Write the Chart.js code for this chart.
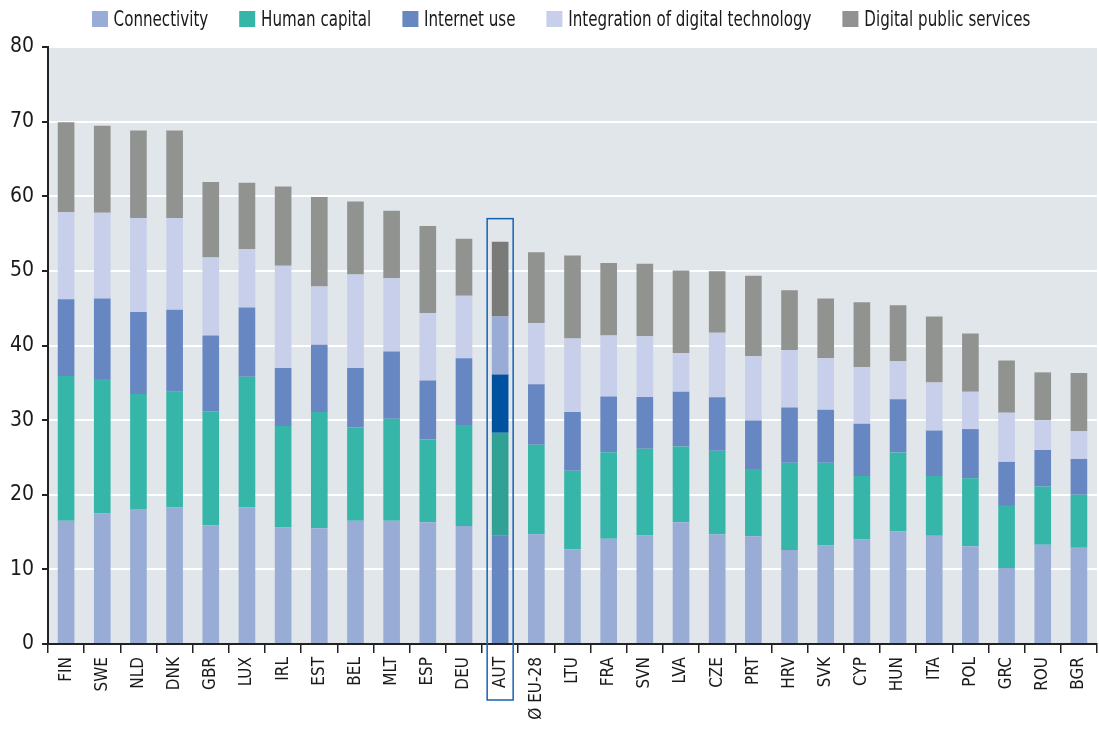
<!DOCTYPE html>
<html><head><meta charset="utf-8">
<script src="https://cdn.jsdelivr.net/npm/chart.js@4/dist/chart.umd.min.js"></script>
<style>
html,body{margin:0;padding:0;background:#fff;}
#wrap{position:relative;width:1099px;height:729px;}
#legend{position:absolute;left:92px;top:7px;height:24px;display:flex;align-items:center;font-family:'DejaVu Sans Condensed','DejaVu Sans',sans-serif;font-size:21px;color:#1a1a1a;white-space:nowrap;transform:scaleX(0.8);transform-origin:0 50%;}
.item{display:flex;align-items:center;margin-right:39px;}
.sw{width:20px;height:16px;margin-right:7px;display:inline-block;}
</style></head><body>
<div id="wrap"><canvas id="c" width="1099" height="729"></canvas><div id="legend"></div></div>
<script>
const categories = ['FIN','SWE','NLD','DNK','GBR','LUX','IRL','EST','BEL','MLT','ESP','DEU','AUT','Ø EU-28','LTU','FRA','SVN','LVA','CZE','PRT','HRV','SVK','CYP','HUN','ITA','POL','GRC','ROU','BGR'];
const seriesNames = ['Connectivity','Human capital','Internet use','Integration of digital technology','Digital public services'];
const connectivity = [16.5,17.5,18.1,18.3,15.9,18.3,15.6,15.5,16.5,16.5,16.3,15.8,14.5,14.7,12.7,14.1,14.55,16.3,14.7,14.45,12.6,13.2,14.0,15.1,14.5,13.1,10.2,13.3,12.9];
const humanCapital = [19.4,18.0,15.4,15.5,15.3,17.5,13.6,15.6,12.5,13.7,11.1,13.55,13.8,12.0,10.5,11.6,11.6,10.15,11.2,9.0,11.7,11.1,8.5,10.55,8.0,9.1,8.3,7.8,7.1];
const internetUse = [10.3,10.8,11.0,11.0,10.15,9.3,7.8,9.0,8.0,9.0,7.9,8.95,7.8,8.1,7.9,7.45,6.95,7.35,7.15,6.5,7.4,7.1,7.0,7.15,6.1,6.6,5.9,4.9,4.8];
const integration = [11.7,11.5,12.6,12.3,10.45,7.8,13.7,7.8,12.5,9.8,9.05,8.35,7.8,8.2,9.85,8.2,8.15,5.15,8.65,8.6,7.7,6.9,7.6,5.1,6.45,5.0,6.6,4.0,3.7];
const publicServices = [12.0,11.65,11.7,11.7,10.1,8.9,10.6,12.0,9.8,9.05,11.65,7.65,10.0,9.5,11.1,9.7,9.7,11.1,8.25,10.8,8.0,8.0,8.7,7.5,8.85,7.8,7.0,6.4,7.8];
const yTicks = [0,10,20,30,40,50,60,70,80];
const highlightCategory = 'AUT';
const highlightBoxTop = 57;

const normalColors = ['#98acd6','#36b5a9','#6787c2','#c7cfea','#919391'];
const highlightColors = ['#6787c2','#31a095','#0052a0','#98acd6','#7a7a79'];
const FONT = "'DejaVu Sans Condensed','DejaVu Sans',sans-serif";

const allSeries = [connectivity, humanCapital, internetUse, integration, publicServices];
const datasets = allSeries.map((data, s) => ({
  label: seriesNames[s],
  data: data,
  backgroundColor: (ctx) => (ctx.dataIndex !== undefined && categories[ctx.dataIndex] === highlightCategory) ? highlightColors[s] : normalColors[s],
  borderWidth: 0,
  categoryPercentage: 1,
  barPercentage: 0.46
}));

// HTML legend
const lg = document.getElementById('legend');
seriesNames.forEach((n, s) => {
  const it = document.createElement('div'); it.className = 'item';
  const sw = document.createElement('span'); sw.className = 'sw'; sw.style.background = normalColors[s];
  const tx = document.createElement('span'); tx.textContent = n;
  it.appendChild(sw); it.appendChild(tx); lg.appendChild(it);
});

const bgPlugin = {
  id: 'bg',
  beforeDraw(chart) {
    const {ctx, chartArea: a} = chart;
    ctx.save(); ctx.fillStyle = '#e1e6ea';
    ctx.fillRect(a.left, a.top, a.right - a.left, a.bottom - a.top);
    ctx.restore();
  }
};
const boxPlugin = {
  id: 'hbox',
  afterDraw(chart) {
    const i = categories.indexOf(highlightCategory);
    const xs = chart.scales.x, ys = chart.scales.y;
    const x = xs.getPixelForValue(i);
    const top = ys.getPixelForValue(highlightBoxTop);
    const bottom = xs.top + 56;
    const ctx = chart.ctx;
    ctx.save(); ctx.strokeStyle = '#1462b4'; ctx.lineWidth = 1.5;
    ctx.strokeRect(x - 13, top, 26, bottom - top);
    ctx.restore();
  }
};

new Chart(document.getElementById('c'), {
  type: 'bar',
  data: { labels: categories, datasets },
  options: {
    responsive: false, animation: false, devicePixelRatio: 1,
    layout: { padding: { top: 47, right: 2, left: 0, bottom: 0 } },
    plugins: { legend: { display: false }, tooltip: { enabled: false } },
    scales: {
      x: {
        stacked: true,
        grid: { display: true, drawOnChartArea: false, drawTicks: true, tickLength: 9, color: '#222', tickColor: '#222', lineWidth: 1.5, offset: true },
        border: { color: '#222', width: 2 },
        ticks: { minRotation: 90, maxRotation: 90, autoSkip: false, font: { family: FONT, size: 17 }, color: '#1a1a1a', padding: 4 },
        afterFit(s) { s.height = 85; s.paddingLeft = 0; s.paddingRight = 0; }
      },
      y: {
        stacked: true, min: 0, max: 80,
        afterBuildTicks(s) { s.ticks = yTicks.map(v => ({ value: v })); },
        ticks: { font: { family: FONT, size: 21 }, color: '#1a1a1a', padding: 8 },
        grid: { color: '#ffffff', lineWidth: 2, tickColor: '#222', tickLength: 6, drawTicks: true },
        border: { color: '#222', width: 2 },
        afterFit(s) { s.width = 48; s.paddingTop = 0; s.paddingBottom = 0; }
      }
    }
  },
  plugins: [bgPlugin, boxPlugin]
});
</script>
</body></html>
